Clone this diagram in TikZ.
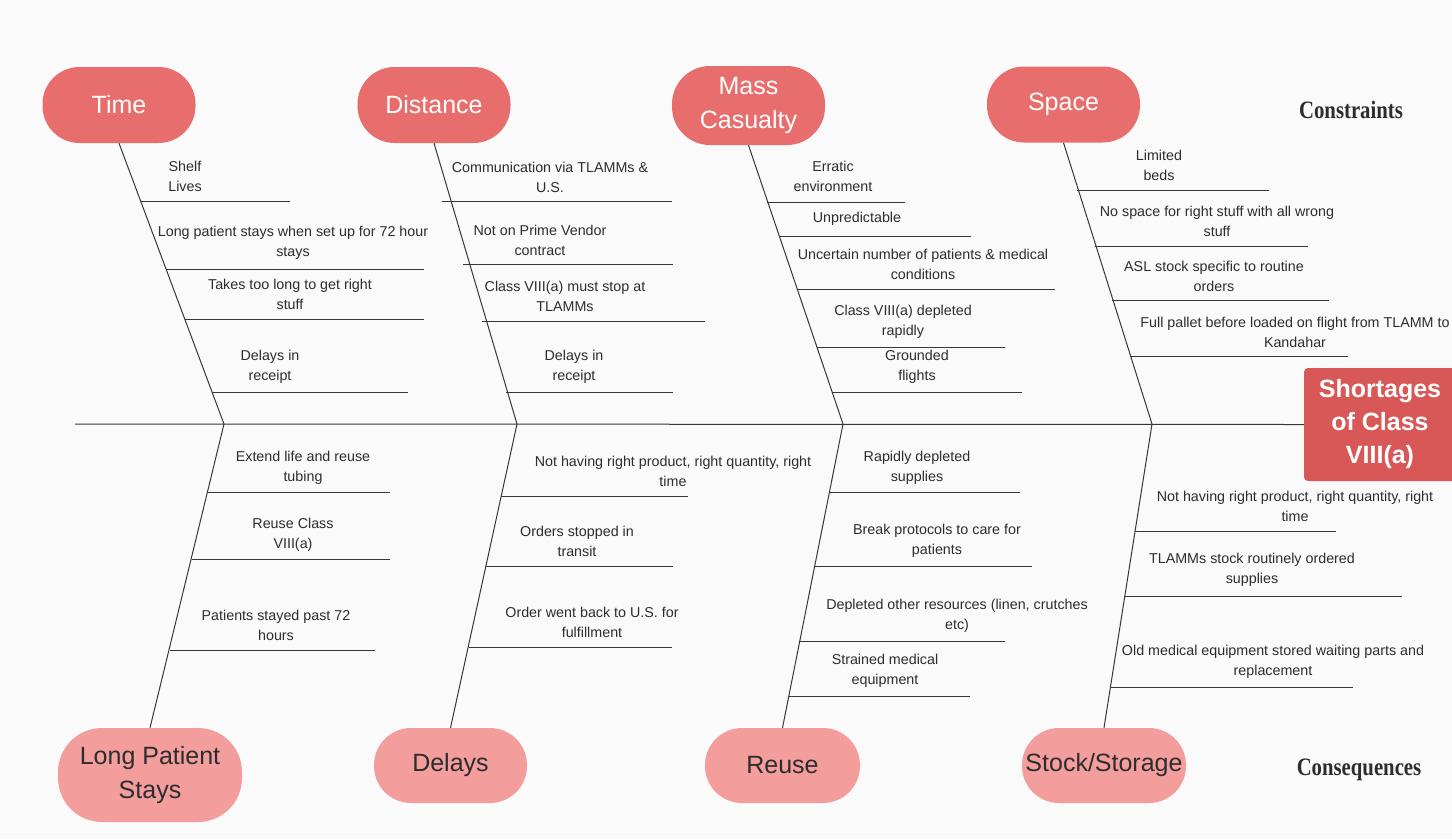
\documentclass[tikz,border=0pt]{standalone}
\usepackage{fontspec}
\usepackage{graphicx}
\setmainfont{Liberation Sans}
\newfontfamily\headserif{Liberation Serif}
\usetikzlibrary{calc}

\definecolor{bgcol}{RGB}{250,250,250}
\definecolor{topfill}{RGB}{232,110,110}
\definecolor{botfill}{RGB}{243,157,157}
\definecolor{headfill}{RGB}{216,88,88}
\definecolor{linecol}{RGB}{55,55,55}
\definecolor{textdark}{RGB}{45,45,45}

\begin{document}
\begin{tikzpicture}[x=1pt,y=-1pt,
  cause/.style={rectangle, rounded corners=37pt, fill=topfill, text=white,
    font=\fontsize{25}{34}\selectfont, align=center, inner sep=0pt,
    minimum width=153pt, minimum height=76pt},
  effect/.style={rectangle, rounded corners=37pt, fill=botfill, text=textdark,
    font=\fontsize{25}{34}\selectfont, align=center, inner sep=0pt,
    minimum width=154pt, minimum height=75pt},
  headbox/.style={rectangle, rounded corners=4pt, fill=headfill, text=white,
    font=\fontsize{25}{33}\selectfont\bfseries, align=center, inner sep=0pt,
    minimum width=152pt, minimum height=113pt},
  lbl/.style={font=\fontsize{14.3}{20}\selectfont, text=textdark, align=center, inner sep=0pt},
  sidelbl/.style={font=\fontsize{25}{30}\headserif\bfseries, text=textdark, inner sep=0pt},
  bone/.style={draw=linecol, line width=1pt},
  rib/.style={draw=linecol, line width=1pt}
]
\useasboundingbox (0,0) rectangle (1452,839);
\fill[bgcol] (0,0) rectangle (1452,839);

% effect box and spine
\node[headbox] (head) at (1380,424.5) {Shortages\\of Class\\VIII(a)};
\coordinate (spineL) at (75,424);
\draw[bone] (spineL) -- (head.west);

% junctions of the bones on the spine
\coordinate (j1) at (224,424);
\coordinate (j2) at (517,424);
\coordinate (j3) at (843,424);
\coordinate (j4) at (1152,424);

% constraint categories
\node[cause] (time) at (119,105) {Time};
\node[cause] (dist) at (434,105) {Distance};
\node[cause, minimum height=79pt, rounded corners=38pt] (mass) at (748.5,105.5) {Mass\\Casualty};
\node[cause] (space) at (1063.5,104.5) {Space};

% consequence categories
\node[effect, minimum width=184pt, minimum height=94pt, rounded corners=44pt] (stays) at (150,775) {Long Patient\\Stays};
\node[effect, minimum width=153pt] (delays) at (450.5,765.5) {Delays};
\node[effect, minimum width=155pt] (reuse) at (782.5,765.5) {Reuse};
\node[effect, minimum width=164pt] (stock) at (1104,765.5) {Stock/Storage};

% bones
\draw[bone] (time.south) -- (j1);
\draw[bone] (dist.south) -- (j2);
\draw[bone] (mass.south) -- (j3);
\draw[bone] (space.south) -- (j4);
\draw[bone] (stays.north) -- (j1);
\draw[bone] (delays.north) -- (j2);
\draw[bone] (reuse.north) -- (j3);
\draw[bone] (stock.north) -- (j4);

% side headings
\node[sidelbl] (constr) at (1351,110) {\scalebox{0.83}[1]{Constraints}};
\node[sidelbl] (conseq) at (1359,770) {\scalebox{0.83}[1]{Consequences}};

% Time
\node[lbl] (t1) at (185,176) {Shelf\\Lives};
\draw[rib] (141,201) -- (290,201);
\node[lbl] (t2) at (293,243) {Long patient stays when set up for 72 hour\\stays};
\draw[rib] (166,269) -- (424,269);
\node[lbl] (t3) at (290,294) {Takes too long to get right\\stuff};
\draw[rib] (185,319) -- (424,319);
\node[lbl] (t4) at (270,367) {Delays in\\receipt};
\draw[rib] (212,392) -- (408,392);

% Distance
\node[lbl] (d1) at (550,177) {Communication via TLAMMs \&\\U.S.};
\draw[rib] (442,201) -- (672,201);
\node[lbl] (d2) at (540,240) {Not on Prime Vendor\\contract};
\draw[rib] (463,264) -- (673,264);
\node[lbl] (d3) at (565,296) {Class VIII(a) must stop at\\TLAMMs};
\draw[rib] (482,321) -- (705,321);
\node[lbl] (d4) at (574,367) {Delays in\\receipt};
\draw[rib] (506,392) -- (673,392);

% Mass Casualty
\node[lbl] (m1) at (833,176) {Erratic\\environment};
\draw[rib] (767,202) -- (905,202);
\node[lbl] (m2) at (857,219) {Unpredictable};
\draw[rib] (779,236) -- (971,236);
\node[lbl] (m3) at (923,264) {Uncertain number of patients \& medical\\conditions};
\draw[rib] (797,289) -- (1055,289);
\node[lbl] (m4) at (903,322) {Class VIII(a) depleted\\rapidly};
\draw[rib] (817,347) -- (1005,347);
\node[lbl] (m5) at (917,367) {Grounded\\flights};
\draw[rib] (832,392) -- (1022,392);

% Space
\node[lbl] (s1) at (1159,165) {Limited\\beds};
\draw[rib] (1077,190) -- (1269,190);
\node[lbl] (s2) at (1217,221) {No space for right stuff with all wrong\\stuff};
\draw[rib] (1095,246) -- (1308,246);
\node[lbl] (s3) at (1214,276) {ASL stock specific to routine\\orders};
\draw[rib] (1112,300) -- (1329,300);
\node[lbl] (s4) at (1295,332) {Full pallet before loaded on flight from TLAMM to\\Kandahar};
\draw[rib] (1130,356) -- (1348,356);

% Long Patient Stays
\node[lbl] (l1) at (303,468) {Extend life and reuse\\tubing};
\draw[rib] (208,492) -- (390,492);
\node[lbl] (l2) at (293,535) {Reuse Class\\VIII(a)};
\draw[rib] (192,559) -- (390,559);
\node[lbl] (l3) at (276,625) {Patients stayed past 72\\hours};
\draw[rib] (170,650) -- (375,650);

% Delays
\node[lbl] (e1) at (673,471) {Not having right product, right quantity, right\\time};
\draw[rib] (501,496) -- (688,496);
\node[lbl] (e2) at (577,541) {Orders stopped in\\transit};
\draw[rib] (486,566) -- (673,566);
\node[lbl] (e3) at (592,622) {Order went back to U.S. for\\fulfillment};
\draw[rib] (469,647) -- (672,647);

% Reuse
\node[lbl] (r1) at (917,468) {Rapidly depleted\\supplies};
\draw[rib] (829,492) -- (1020,492);
\node[lbl] (r2) at (937,541) {Break protocols to care for\\patients};
\draw[rib] (815,566) -- (1032,566);
\node[lbl] (r3) at (957,616) {Depleted other resources (linen, crutches\\etc)};
\draw[rib] (799,641) -- (1005,641);
\node[lbl] (r4) at (885,671) {Strained medical\\equipment};
\draw[rib] (788,696) -- (970,696);

% Stock/Storage
\node[lbl] (k1) at (1295,506) {Not having right product, right quantity, right\\time};
\draw[rib] (1135,531) -- (1336,531);
\node[lbl] (k2) at (1252,570) {TLAMMs stock routinely ordered\\supplies};
\draw[rib] (1124,596) -- (1402,596);
\node[lbl] (k3) at (1273,662) {Old medical equipment stored waiting parts and\\replacement};
\draw[rib] (1110,687) -- (1353,687);
\end{tikzpicture}
\end{document}
